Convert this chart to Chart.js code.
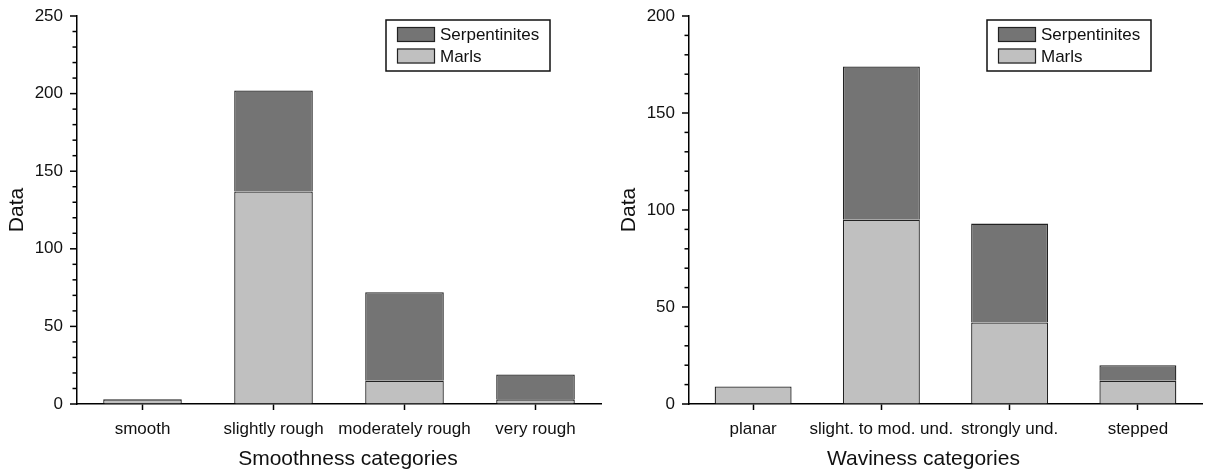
<!DOCTYPE html>
<html><head><meta charset="utf-8">
<script src="https://cdn.jsdelivr.net/npm/chart.js@4.4.1/dist/chart.umd.min.js"></script>
<style>
html,body{margin:0;padding:0;background:#fff;}
#wrap{position:relative;width:1206px;height:471px;}
.box{position:absolute;top:0;width:603px;height:471px;}
</style></head><body>
<div id="wrap">
<div class="box" style="left:0"><canvas id="c1" width="603" height="471"></canvas></div>
<div class="box" style="left:603px"><canvas id="c2" width="603" height="471"></canvas></div>
</div>
<script>
// ---- data ----
const smoothCategories = ['smooth', 'slightly rough', 'moderately rough', 'very rough'];
const smoothMarls = [3, 137, 15, 3];
const smoothSerpentinites = [0, 65, 57, 16];
const waveCategories = ['planar', 'slight. to mod. und.', 'strongly und.', 'stepped'];
const waveMarls = [9, 95, 42, 12];
const waveSerpentinites = [0, 79, 51, 8];
const smoothYMax = 250;
const waveYMax = 200;
const yStep = 10;
const yMajor = 50;
const seriesNames = ['Marls', 'Serpentinites'];

const FONT = "'Liberation Sans', Arial, sans-serif";
const TXT = '#111';
const COL_MARLS = '#c0c0c0';
const COL_SERP = '#747474';

const tickPlugin = {
  id: 'yTicks',
  afterDraw(chart) {
    const s = chart.scales.y, ctx = chart.ctx;
    ctx.save();
    ctx.strokeStyle = '#000';
    ctx.lineWidth = 1.5;
    s.ticks.forEach(t => {
      const py = s.getPixelForValue(t.value);
      const len = (t.value % yMajor === 0) ? 7 : 4.5;
      ctx.beginPath();
      ctx.moveTo(s.right, py);
      ctx.lineTo(s.right - len, py);
      ctx.stroke();
    });
    ctx.restore();
  }
};

const legendPlugin = {
  id: 'boxLegend',
  afterDraw(chart, args, o) {
    const ctx = chart.ctx, a = chart.chartArea;
    const x = a.right - o.rightInset - o.w, y = a.top + o.topInset;
    ctx.save();
    ctx.fillStyle = '#fff';
    ctx.fillRect(x, y, o.w, o.h);
    ctx.strokeStyle = '#111';
    ctx.lineWidth = 1.5;
    ctx.strokeRect(x, y, o.w, o.h);
    const items = chart.data.datasets.slice().reverse();
    ctx.font = '17px ' + FONT;
    ctx.textBaseline = 'middle';
    items.forEach((ds, i) => {
      const sy = y + o.sTop + i * o.sGap;
      ctx.fillStyle = ds.backgroundColor;
      ctx.fillRect(x + o.sLeft, sy, o.sw, o.sh);
      ctx.strokeStyle = '#222';
      ctx.lineWidth = 1.2;
      ctx.strokeRect(x + o.sLeft + 0.5, sy + 0.5, o.sw - 1, o.sh - 1);
      ctx.fillStyle = TXT;
      ctx.fillText(ds.label, x + o.tLeft, sy + o.sh / 2 + 1);
    });
    ctx.restore();
  }
};

const xTitlePlugin = {
  id: 'xTitle',
  afterDraw(chart, args, o) {
    const ctx = chart.ctx, a = chart.chartArea;
    ctx.save();
    ctx.font = '21px ' + FONT;
    ctx.fillStyle = TXT;
    ctx.textAlign = 'center';
    ctx.textBaseline = 'alphabetic';
    ctx.fillText(o.text, a.left + o.ratio * (a.right - a.left), o.y);
    ctx.restore();
  }
};

function makeChart(id, cats, marls, serp, yMax, yWidth, padRight, titleText, titleRatio, yTitlePad) {
  return new Chart(document.getElementById(id), {
    type: 'bar',
    data: {
      labels: cats,
      datasets: [
        { label: seriesNames[0], data: marls, backgroundColor: COL_MARLS, borderColor: '#222', borderWidth: 1.3 },
        { label: seriesNames[1], data: serp, backgroundColor: COL_SERP, borderColor: '#222', borderWidth: 1.3 }
      ]
    },
    options: {
      responsive: false,
      animation: false,
      devicePixelRatio: 1,
      layout: { padding: { left: 0, right: padRight, top: 16, bottom: 0 } },
      datasets: { bar: { barPercentage: 0.6, categoryPercentage: 1.0 } },
      plugins: {
        legend: { display: false },
        tooltip: { enabled: false },
        boxLegend: { rightInset: 51, topInset: 4, w: 164, h: 51, sLeft: 11, sTop: 7, sGap: 21.5, sw: 38, sh: 15, tLeft: 54 },
        xTitle: { text: titleText, ratio: titleRatio, y: 465 }
      },
      scales: {
        x: {
          stacked: true,
          offset: true,
          grid: { display: true, drawOnChartArea: false, drawTicks: true, tickLength: 6, offset: false, color: '#000', tickColor: '#000', tickWidth: 1.5 },
          border: { display: true, color: '#000', width: 1.5 },
          ticks: { color: TXT, font: { family: FONT, size: 17 }, padding: 9, maxRotation: 0, autoSkip: false },
          afterFit(s) { s.height = 67; }
        },
        y: {
          stacked: true,
          min: 0,
          max: yMax,
          grid: { display: true, drawOnChartArea: false, drawTicks: true, tickLength: 14, tickColor: 'rgba(0,0,0,0)' },
          border: { display: true, color: '#000', width: 1.5 },
          ticks: {
            stepSize: yStep, autoSkip: false, padding: 0, color: TXT,
            font: { family: FONT, size: 17 },
            callback: v => (v % yMajor === 0 ? String(v) : '')
          },
          title: { display: true, text: 'Data', color: TXT, font: { family: FONT, size: 21 }, padding: { top: yTitlePad, bottom: 0 } },
          afterFit(s) { s.width = yWidth; }
        }
      }
    },
    plugins: [tickPlugin, legendPlugin, xTitlePlugin]
  });
}

makeChart('c1', smoothCategories, smoothMarls, smoothSerpentinites, smoothYMax, 77, 2, 'Smoothness categories', 0.517, 5);
makeChart('c2', waveCategories, waveMarls, waveSerpentinites, waveYMax, 86, 4, 'Waviness categories', 0.457, 14);
</script>
</body></html>
